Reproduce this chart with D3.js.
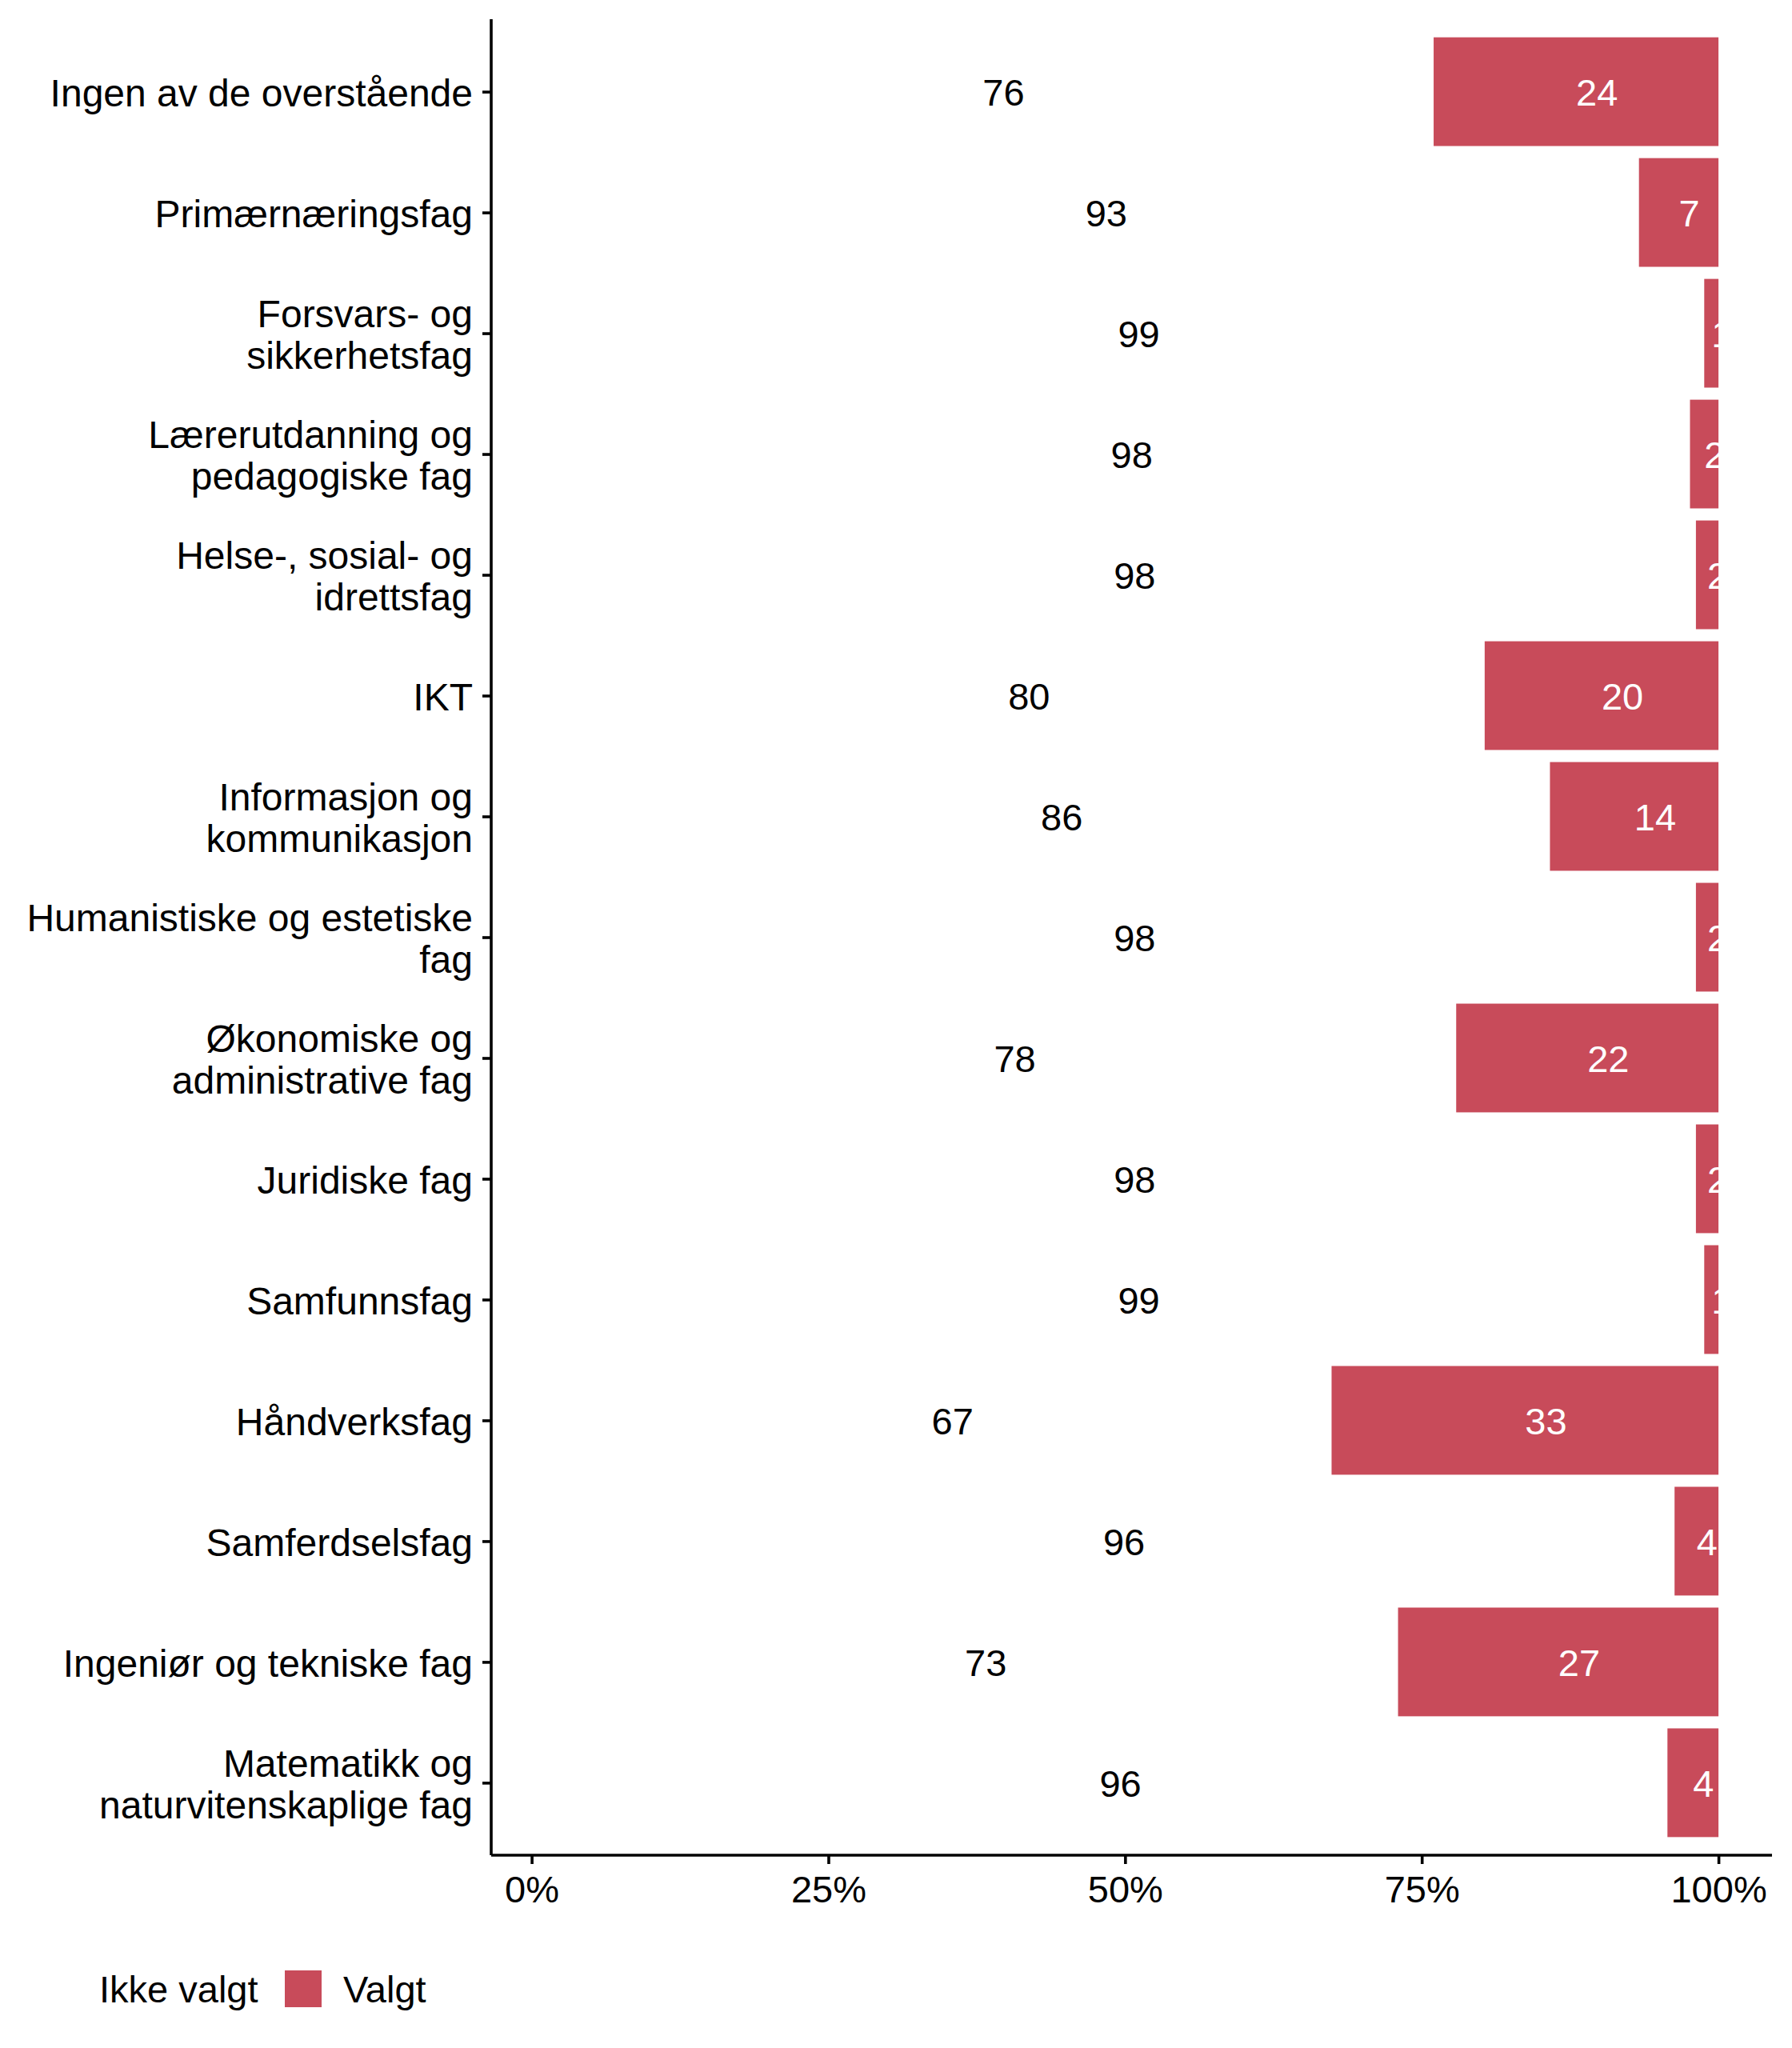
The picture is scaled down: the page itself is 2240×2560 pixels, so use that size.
<!DOCTYPE html>
<html>
<head>
<meta charset="utf-8">
<script src="https://cdn.jsdelivr.net/npm/d3@7"></script>
<style>
  body { margin: 0; background: #fff; }
  text { font-family: "Liberation Sans", Arial, sans-serif; }
</style>
</head>
<body>
<div id="chart"></div>
<script>
const w = 2240;
const h = 2560;
const red = '#C84B5A';
const fontSize = 47;

// categories, top to bottom
const categories = [
  'Ingen av de overstående',
  'Primærnæringsfag',
  'Forsvars- og\nsikkerhetsfag',
  'Lærerutdanning og\npedagogiske fag',
  'Helse-, sosial- og\nidrettsfag',
  'IKT',
  'Informasjon og\nkommunikasjon',
  'Humanistiske og estetiske\nfag',
  'Økonomiske og\nadministrative fag',
  'Juridiske fag',
  'Samfunnsfag',
  'Håndverksfag',
  'Samferdselsfag',
  'Ingeniør og tekniske fag',
  'Matematikk og\nnaturvitenskaplige fag'
];
// share (%) who chose each field
const valgt = [24, 6.7, 1.2, 2.4, 1.9, 19.7, 14.2, 1.9, 22.1, 1.9, 1.2, 32.6, 3.7, 27.0, 4.3];
// printed labels
const valgtLabels = [24, 7, 1, 2, 2, 20, 14, 2, 22, 2, 1, 33, 4, 27, 4];
const ikkeLabels = [76, 93, 99, 98, 98, 80, 86, 98, 78, 98, 99, 67, 96, 73, 96];
const xTicks = [0, 0.25, 0.5, 0.75, 1];
const legendLabels = ['Ikke valgt', 'Valgt'];

const pLeft = 614, pRight = 2215, pTop = 24, pBottom = 2319;

const svg = d3.select('#chart').
append('svg').
attr('width', w).
attr('height', h).
attr('viewBox', '0 0 ' + w + ' ' + h);

const xScale = d3.scaleLinear().
domain([-0.0341, 1.0451]).
range([pLeft, pRight]);

const yScale = d3.scalePoint().
domain(categories).
range([pTop, pBottom]).
padding(0.6);

const barH = yScale.step() * 0.9;

const rows = categories.map((c, i) => ({
  cat: c,
  valgt: valgt[i] / 100,
  ikke: 1 - valgt[i] / 100,
  vLab: valgtLabels[i],
  iLab: ikkeLabels[i]
}));

// Ikke valgt bars are white (invisible), Valgt bars red
svg.selectAll('rect.ikke').
data(rows).
enter().
append('rect').
attr('class', 'ikke').
attr('x', xScale(0)).
attr('y', d => yScale(d.cat) - barH / 2).
attr('width', d => xScale(d.ikke) - xScale(0)).
attr('height', barH).
attr('fill', '#fff');

svg.selectAll('rect.valgt').
data(rows).
enter().
append('rect').
attr('class', 'valgt').
attr('x', d => xScale(d.ikke)).
attr('y', d => yScale(d.cat) - barH / 2).
attr('width', d => xScale(1) - xScale(d.ikke)).
attr('height', barH).
attr('fill', red);

// value labels start at the middle of their segment
svg.selectAll('text.ilab').
data(rows).
enter().
append('text').
attr('class', 'ilab').
attr('x', d => xScale(d.ikke / 2)).
attr('y', d => yScale(d.cat)).
attr('dy', '0.37em').
attr('font-size', fontSize).
attr('fill', '#000').
text(d => d.iLab);

svg.selectAll('text.vlab').
data(rows).
enter().
append('text').
attr('class', 'vlab').
attr('x', d => xScale(d.ikke + d.valgt / 2)).
attr('y', d => yScale(d.cat)).
attr('dy', '0.37em').
attr('font-size', fontSize).
attr('fill', '#fff').
text(d => d.vLab);

// axes
const xAxis = d3.axisBottom(xScale).
tickValues(xTicks).
tickFormat(d3.format('.0%')).
tickSize(11).
tickPadding(13);

const gx = svg.append('g').
attr('transform', 'translate(0,' + pBottom + ')').
call(xAxis);
gx.select('.domain').attr('d', 'M' + pLeft + ',0H' + pRight);

const yAxis = d3.axisLeft(yScale).tickSize(11).tickPadding(12);
const gy = svg.append('g').
attr('transform', 'translate(' + pLeft + ',0)').
call(yAxis);
gy.select('.domain').attr('d', 'M0,' + pTop + 'V' + pBottom);

svg.selectAll('.domain, .tick line').
attr('stroke', '#000').
attr('stroke-width', 3.6);

gx.selectAll('.tick text').
attr('font-size', fontSize).
attr('font-family', '"Liberation Sans", Arial, sans-serif').
attr('fill', '#000').
attr('dy', '0.75em');

// multi-line category labels
const lineH = 52;
gy.selectAll('.tick text').each(function (d) {
  const t = d3.select(this);
  const lines = d.split('\n');
  t.text(null).
  attr('font-size', 48).
  attr('font-family', '"Liberation Sans", Arial, sans-serif').
  attr('fill', '#000').
  attr('dy', null);
  lines.forEach((l, k) => {
    t.append('tspan').
    attr('x', -23).
    attr('y', (k - (lines.length - 1) / 2) * lineH).
    attr('dy', '0.37em').
    text(l);
  });
});

// legend
const legY = 2486;
const leg = svg.append('g');
const keyColors = ['#fff', red];
const keyX = [60, 356];
legendLabels.forEach((lab, i) => {
  leg.append('rect').
  attr('x', keyX[i]).
  attr('y', legY - 23).
  attr('width', 46).
  attr('height', 46).
  attr('fill', keyColors[i]);
  leg.append('text').
  attr('x', i === 0 ? 124 : 429).
  attr('y', legY).
  attr('dy', '0.37em').
  attr('font-size', fontSize).
  attr('fill', '#000').
  text(lab);
});
</script>
</body>
</html>
